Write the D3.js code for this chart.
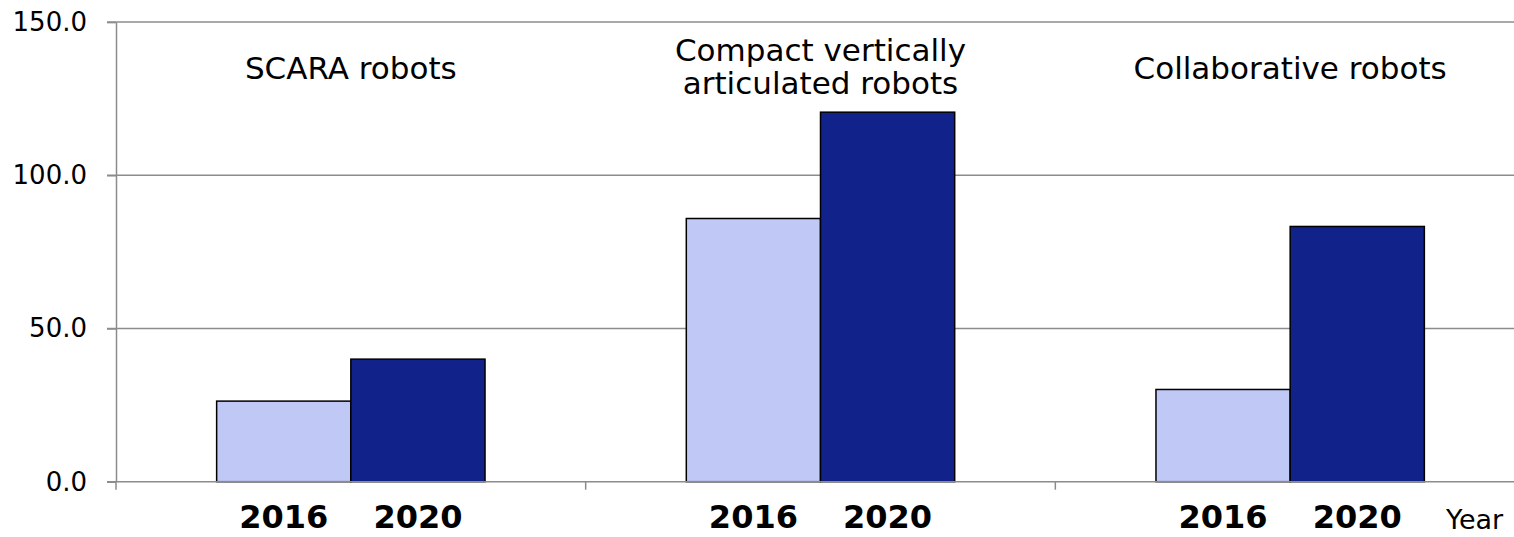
<!DOCTYPE html>
<html>
<head>
<meta charset="utf-8">
<script src="https://cdn.jsdelivr.net/npm/d3@7"></script>
<style>
  body { margin: 0; background: #fff; }
  text { font-family: "DejaVu Sans", Verdana, sans-serif; }
</style>
</head>
<body>
<div id="chart"></div>
<script>
"use strict";

const categories = ["SCARA robots", "Compact vertically articulated robots", "Collaborative robots"];
const categoryLines = [["SCARA robots"], ["Compact vertically", "articulated robots"], ["Collaborative robots"]];
const years = ["2016", "2020"];
const values2016 = [26.3, 85.9, 30.1];
const values2020 = [40.0, 120.6, 83.3];
const yTicks = [0, 50, 100, 150];

const size = {
  width: 1514,
  height: 537,
  left: 116,
  right: 1525,
  top: 22.1,
  bottom: 481.7
};
const colors = { "2016": "#c0c8f6", "2020": "#12228b" };

const svg = d3.select("#chart")
  .append("svg")
  .attr("width", size.width)
  .attr("height", size.height);

const yScale = d3.scaleLinear()
  .domain([0, 150])
  .range([size.bottom, size.top]);

const x0 = d3.scaleBand()
  .domain(categories)
  .range([size.left, size.right])
  .padding(0);

const x1 = d3.scaleBand()
  .domain(years)
  .range([0, x0.bandwidth()])
  .paddingInner(0)
  .paddingOuter(0.75);

// gridlines
svg.append("g")
  .selectAll("line")
  .data(yTicks.filter(d => d > 0))
  .enter()
  .append("line")
  .attr("x1", size.left - 9)
  .attr("x2", size.width)
  .attr("y1", d => yScale(d))
  .attr("y2", d => yScale(d))
  .attr("stroke", "#8c8c8c")
  .attr("stroke-width", 1.5);

// y axis
const yAxis = d3.axisLeft(yScale)
  .tickValues(yTicks)
  .tickFormat(d3.format(".1f"))
  .tickSize(9)
  .tickSizeOuter(0)
  .tickPadding(20);

const yG = svg.append("g")
  .attr("transform", "translate(" + size.left + ",0)")
  .call(yAxis);
yG.select(".domain").attr("stroke", "#8c8c8c").attr("stroke-width", 1.5);
yG.selectAll(".tick line").attr("stroke", "#8c8c8c").attr("stroke-width", 1.5);
yG.selectAll(".tick text")
  .style("font-size", "26px")
  .style("font-family", "'DejaVu Sans', Verdana, sans-serif")
  .attr("fill", "#000");

// bars
const rows = categories.map((c, i) => ({ cat: c, vals: [values2016[i], values2020[i]] }));

const groups = svg.append("g")
  .selectAll("g")
  .data(rows)
  .enter()
  .append("g")
  .attr("transform", d => "translate(" + x0(d.cat) + ",0)");

groups.selectAll("rect")
  .data(d => years.map((y, j) => ({ year: y, value: d.vals[j] })))
  .enter()
  .append("rect")
  .attr("x", d => x1(d.year))
  .attr("width", x1.bandwidth())
  .attr("y", d => yScale(d.value))
  .attr("height", d => size.bottom - yScale(d.value))
  .attr("fill", d => colors[d.year])
  .attr("stroke", "#000")
  .attr("stroke-width", 1.5);

// x axis line and ticks
svg.append("line")
  .attr("x1", size.left - 9)
  .attr("x2", size.width)
  .attr("y1", size.bottom)
  .attr("y2", size.bottom)
  .attr("stroke", "#8c8c8c")
  .attr("stroke-width", 1.5);

svg.append("g")
  .selectAll("line")
  .data(categories)
  .enter()
  .append("line")
  .attr("x1", d => x0(d))
  .attr("x2", d => x0(d))
  .attr("y1", size.bottom)
  .attr("y2", size.bottom + 8)
  .attr("stroke", "#8c8c8c")
  .attr("stroke-width", 1.5);

// year labels
groups.selectAll(".yearLabel")
  .data(years)
  .enter()
  .append("text")
  .attr("class", "yearLabel")
  .attr("x", d => x1(d) + x1.bandwidth() / 2)
  .attr("y", 528)
  .attr("text-anchor", "middle")
  .style("font-size", "32px")
  .style("font-weight", "bold")
  .text(d => d);

svg.append("text")
  .attr("x", 1446)
  .attr("y", 529)
  .style("font-size", "27px")
  .text("Year");

// category titles
groups.each(function (d, i) {
  const lines = categoryLines[i];
  const baseY = lines.length > 1 ? 61 : 79;
  d3.select(this).selectAll(".catLabel")
    .data(lines)
    .enter()
    .append("text")
    .attr("class", "catLabel")
    .attr("x", x0.bandwidth() / 2)
    .attr("y", (t, k) => baseY + k * 33)
    .attr("text-anchor", "middle")
    .style("font-size", "31px")
    .text(t => t);
});
</script>
</body>
</html>
